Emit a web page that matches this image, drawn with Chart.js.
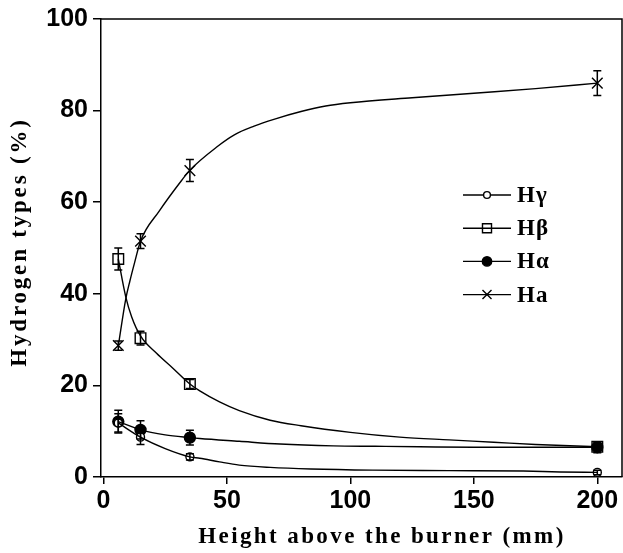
<!DOCTYPE html>
<html>
<head>
<meta charset="utf-8">
<script src="https://cdn.jsdelivr.net/npm/chart.js"></script>
<style>
  html, body { margin: 0; padding: 0; background: #fff; }
  #wrap { width: 623px; height: 553px; }
</style>
</head>
<body>
<div id="wrap"><canvas id="chart" width="623" height="553"></canvas></div>
<script>
// measured points
var heights = [6, 15, 35, 200];
var hGamma = [11.8, 8.7, 4.4, 1.0];
var hGammaErr = [2.0, 1.6, 0.7, 0.5];
var hBeta = [47.6, 30.3, 20.3, 6.6];
var hBetaErr = [2.4, 1.5, 1.0, 0.8];
var hAlpha = [12.1, 10.3, 8.6, 6.5];
var hAlphaErr = [2.5, 2.0, 1.6, 1.2];
var hAro = [28.7, 51.5, 66.9, 86.0];
var hAroErr = [1.0, 1.6, 2.4, 2.7];

// fitted curves
var gammaFitX = [6, 15, 25, 35, 39, 47, 55, 67.5, 84, 109, 140, 170, 185, 200];
var gammaFitY = [11.8, 8.7, 6.2, 4.4, 4.1, 3.3, 2.6, 2.1, 1.75, 1.5, 1.4, 1.3, 1.1, 1.0];
var betaFitX = [6, 9, 11.4, 15, 21.5, 28, 35, 39, 47, 55, 67.5, 80, 100, 120, 140, 158, 175, 200];
var betaFitY = [47.6, 39.4, 35, 30.8, 27, 23.8, 20.3, 18.8, 16.4, 14.5, 12.4, 11.2, 9.75, 8.7, 8.1, 7.6, 7.1, 6.6];
var alphaFitX = [6, 15, 25, 35, 39, 55, 71.5, 93, 110, 128, 150, 175, 200];
var alphaFitY = [12.1, 10.3, 9.2, 8.6, 8.4, 7.8, 7.2, 6.8, 6.7, 6.6, 6.5, 6.5, 6.5];
var aroFitX = [6, 9, 10.7, 12.5, 15, 22.5, 31.7, 35, 46, 53, 61, 69, 80, 90, 100, 125, 150, 175, 200];
var aroFitY = [28.6, 38.8, 42.8, 46.6, 51.5, 58, 64.8, 67, 72.1, 74.7, 76.6, 78.1, 79.8, 81, 81.7, 82.8, 83.8, 84.8, 86];

var labels = ['Hγ', 'Hβ', 'Hα', 'Ha'];
var xTicks = [0, 50, 100, 150, 200];
var yTicks = [0, 20, 40, 60, 80, 100];

function pts(xs, ys) {
  return xs.map(function (x, i) { return { x: x, y: ys[i] }; });
}

function fitSet(xs, ys) {
  return {
    data: pts(xs, ys),
    showLine: true,
    borderColor: '#000',
    borderWidth: 1.4,
    pointRadius: 0,
    cubicInterpolationMode: 'monotone',
    fill: false
  };
}

var markStyles = [
  { pointStyle: 'circle', radius: 4, fill: '#fff' },
  { pointStyle: 'rect', radius: 7.5, fill: 'rgba(0,0,0,0)' },
  { pointStyle: 'circle', radius: 5.5, fill: '#000' },
  { pointStyle: 'crossRot', radius: 7.5, fill: 'rgba(0,0,0,0)' }
];
var series = [hGamma, hBeta, hAlpha, hAro];
var errors = [hGammaErr, hBetaErr, hAlphaErr, hAroErr];

var datasets = [
  fitSet(gammaFitX, gammaFitY),
  fitSet(betaFitX, betaFitY),
  fitSet(alphaFitX, alphaFitY),
  fitSet(aroFitX, aroFitY)
];
series.forEach(function (s, i) {
  datasets.push({
    label: labels[i],
    data: pts(heights, s),
    showLine: false,
    pointStyle: markStyles[i].pointStyle,
    pointRadius: markStyles[i].radius,
    pointBackgroundColor: markStyles[i].fill,
    pointBorderColor: '#000',
    pointBorderWidth: 1.4,
    errors: errors[i]
  });
});

var extras = {
  id: 'extras',
  afterDatasetsDraw: function (chart) {
    var ctx = chart.ctx, xs = chart.scales.x, ys = chart.scales.y;
    var a = chart.chartArea;
    ctx.save();
    // error bars
    ctx.strokeStyle = '#000';
    ctx.lineWidth = 1.5;
    chart.data.datasets.forEach(function (ds) {
      if (!ds.errors) return;
      ds.data.forEach(function (p, i) {
        var px = xs.getPixelForValue(p.x);
        var top = ys.getPixelForValue(p.y + ds.errors[i]);
        var bot = ys.getPixelForValue(p.y - ds.errors[i]);
        ctx.beginPath();
        ctx.moveTo(px, top); ctx.lineTo(px, bot);
        ctx.moveTo(px - 4, top); ctx.lineTo(px + 4, top);
        ctx.moveTo(px - 4, bot); ctx.lineTo(px + 4, bot);
        ctx.stroke();
      });
    });
    // frame top / right
    ctx.lineWidth = 1.5;
    ctx.beginPath();
    ctx.moveTo(a.left, a.top); ctx.lineTo(a.right, a.top); ctx.lineTo(a.right, a.bottom);
    ctx.stroke();

    // legend
    var lx = 463, ly = 195, gap = 33.2;
    labels.forEach(function (lab, i) {
      var y = ly + i * gap;
      ctx.strokeStyle = '#000';
      ctx.lineWidth = 1.4;
      ctx.beginPath();
      ctx.moveTo(lx, y); ctx.lineTo(lx + 48, y);
      ctx.stroke();
      ctx.fillStyle = markStyles[i].fill;
      Chart.helpers.drawPoint(ctx, {
        pointStyle: markStyles[i].pointStyle,
        radius: markStyles[i].radius * 0.85,
        rotation: 0,
        borderWidth: 1.4
      }, lx + 24, y);
      ctx.fillStyle = '#000';
      ctx.font = 'bold 23px "Liberation Serif"';
      ctx.textBaseline = 'middle';
      ctx.textAlign = 'left';
      ctx.letterSpacing = '1px';
      ctx.fillText(lab, lx + 54, y + 1);
      ctx.letterSpacing = '0px';
    });

    // axis titles
    ctx.fillStyle = '#000';
    ctx.font = 'bold 23px "Liberation Serif"';
    ctx.textAlign = 'center';
    ctx.textBaseline = 'alphabetic';
    ctx.letterSpacing = '2.4px';
    ctx.fillText('Height above the burner (mm)', 382, 543);
    ctx.translate(26, (a.top + a.bottom) / 2 - 6);
    ctx.rotate(-Math.PI / 2);
    ctx.letterSpacing = '2.8px';
    ctx.fillText('Hydrogen types (%)', 0, 0);
    ctx.restore();
  }
};

var tickFont = { family: '"Liberation Sans", Arial, sans-serif', size: 25, weight: 'bold' };

new Chart(document.getElementById('chart'), {
  type: 'scatter',
  data: { datasets: datasets },
  options: {
    responsive: false,
    animation: false,
    events: [],
    layout: { autoPadding: false, padding: { top: 19, right: 1, left: 0, bottom: 0 } },
    plugins: { legend: { display: false }, tooltip: { enabled: false } },
    scales: {
      x: {
        type: 'linear',
        min: -1,
        max: 210,
        afterFit: function (s) { s.height = 76; s.paddingLeft = 0; s.paddingRight = 0; },
        afterBuildTicks: function (s) { s.ticks = xTicks.map(function (v) { return { value: v }; }); },
        ticks: { color: '#000', font: tickFont, padding: 2, maxRotation: 0 },
        grid: { drawOnChartArea: false, drawTicks: true, tickLength: 7, color: '#000', lineWidth: 1.5 },
        border: { color: '#000', width: 1.5 }
      },
      y: {
        min: 0,
        max: 100,
        afterFit: function (s) { s.width = 101; s.paddingTop = 0; s.paddingBottom = 0; },
        afterBuildTicks: function (s) { s.ticks = yTicks.map(function (v) { return { value: v }; }); },
        ticks: { color: '#000', font: tickFont, padding: 5 },
        grid: { drawOnChartArea: false, drawTicks: true, tickLength: 8, color: '#000', lineWidth: 1.5 },
        border: { color: '#000', width: 1.5 }
      }
    }
  },
  plugins: [extras]
});
</script>
</body>
</html>
